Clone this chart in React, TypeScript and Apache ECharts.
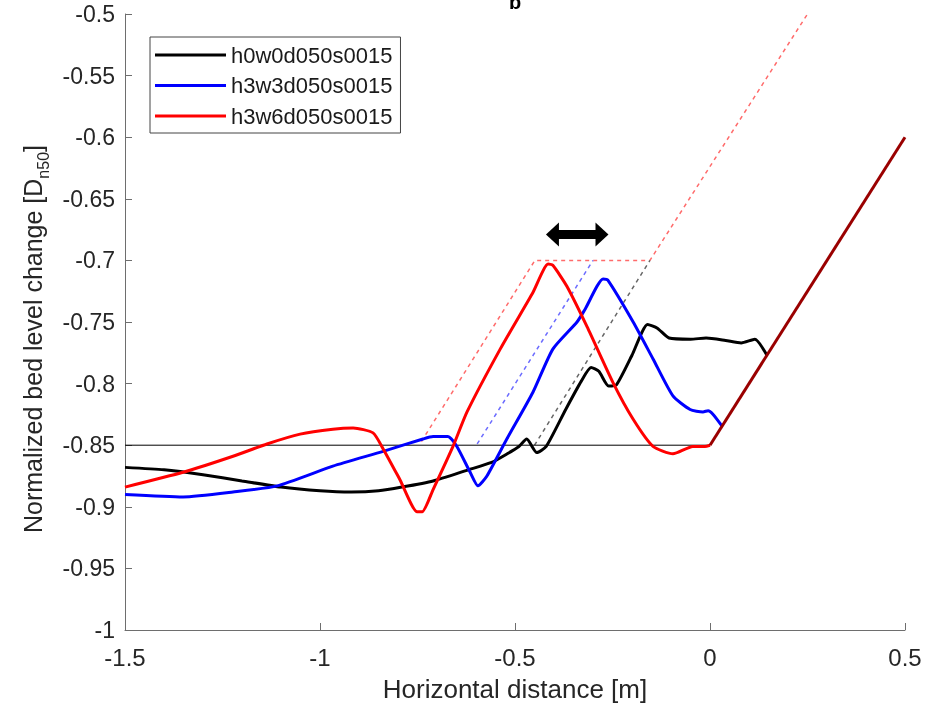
import React, { useEffect, useRef } from 'react';
import * as echarts from 'echarts';

const seriesNames = ['h0w0d050s0015', 'h3w3d050s0015', 'h3w6d050s0015'];

const blackX = [-1.5, -1.4, -1.3, -1.2, -1.1, -1.0, -0.92, -0.85, -0.79, -0.71, -0.62, -0.56, -0.52, -0.49, -0.47, -0.444, -0.42, -0.37, -0.33, -0.305, -0.285, -0.26, -0.24, -0.2, -0.16, -0.135, -0.105, -0.05, -0.01, 0.04, 0.08, 0.115, 0.146];
const blackY = [-0.868, -0.87, -0.874, -0.879, -0.884, -0.887, -0.888, -0.887, -0.884, -0.879, -0.87, -0.864, -0.857, -0.851, -0.845, -0.856, -0.851, -0.821, -0.798, -0.787, -0.79, -0.802, -0.801, -0.777, -0.752, -0.755, -0.763, -0.764, -0.763, -0.765, -0.767, -0.764, -0.777];

const blueX = [-1.5, -1.351, -1.223, -1.11, -0.967, -0.838, -0.736, -0.71, -0.672, -0.649, -0.615, -0.595, -0.572, -0.521, -0.454, -0.403, -0.341, -0.321, -0.274, -0.262, -0.197, -0.146, -0.095, -0.051, -0.018, -0.005, 0.008, 0.031];
const blueY = [-0.89, -0.892, -0.888, -0.883, -0.867, -0.855, -0.845, -0.843, -0.843, -0.851, -0.872, -0.883, -0.875, -0.845, -0.807, -0.772, -0.75, -0.74, -0.715, -0.716, -0.75, -0.78, -0.81, -0.821, -0.823, -0.822, -0.825, -0.8345];

const redX = [-1.5, -1.351, -1.223, -1.136, -1.051, -0.967, -0.915, -0.864, -0.838, -0.795, -0.751, -0.738, -0.71, -0.659, -0.623, -0.538, -0.454, -0.415, -0.403, -0.367, -0.315, -0.249, -0.197, -0.146, -0.095, -0.044, -0.013, 0];
const redY = [-0.884, -0.872, -0.859, -0.849, -0.841, -0.837, -0.836, -0.84, -0.853, -0.878, -0.904, -0.904, -0.886, -0.851, -0.823, -0.772, -0.726, -0.703, -0.704, -0.721, -0.754, -0.799, -0.829, -0.851, -0.857, -0.851, -0.851, -0.85];

// shared slope (all three profiles end on the same 1:2 slope)
const slopeX = [0, 0.5];
const slopeY = [-0.85, -0.6];

const redDashX = [-0.74, -0.449, -0.154, 0.25];
const redDashY = [-0.847, -0.7, -0.7, -0.5];
const blueDashX = [-0.597, -0.3];
const blueDashY = [-0.849, -0.7];
const blackDashX = [-0.45, -0.154];
const blackDashY = [-0.85, -0.7];

const refLineX = [-1.5, 0];
const refLineY = [-0.85, -0.85];

const arrowX = [-0.404, -0.277];
const arrowY = -0.679;

const zip = (xs: number[], ys: number[]) => xs.map((x, i) => [x, ys[i]]);

const FONT = 'Liberation Sans, Arial, sans-serif';

export default function App() {
  const ref = useRef<HTMLDivElement>(null);
  useEffect(() => {
    if (!ref.current) return;
    const chart = echarts.init(ref.current, undefined, { renderer: 'svg' });
    const axisColor = '#6e6e6e';
    const labelColor = '#262626';
    chart.setOption({
      animation: false,
      textStyle: { fontFamily: FONT },
      title: {
        text: 'b',
        left: 504,
        top: -13,
        textStyle: { fontSize: 20, fontWeight: 'bold', color: '#000', fontFamily: FONT },
      },
      grid: { left: 125, right: 28, top: 14, bottom: 76, containLabel: false },
      legend: {
        data: seriesNames.map((n) => ({ name: n, icon: 'rect' })),
        orient: 'vertical',
        left: 150,
        top: 37,
        itemWidth: 71,
        itemHeight: 3,
        itemGap: 8.5,
        padding: [7, 8, 6, 5],
        borderColor: '#444',
        borderWidth: 1,
        borderRadius: 0,
        backgroundColor: '#fff',
        textStyle: { fontSize: 22, color: '#1a1a1a', fontFamily: FONT, lineHeight: 22 },
      },
      xAxis: {
        type: 'value',
        min: -1.5,
        max: 0.5,
        interval: 0.5,
        name: 'Horizontal distance [m]',
        nameLocation: 'middle',
        nameGap: 46,
        nameTextStyle: { fontSize: 26, color: labelColor, fontFamily: FONT },
        axisLine: { show: true, onZero: false, lineStyle: { color: axisColor, width: 1 } },
        axisTick: { show: true, inside: true, length: 7, lineStyle: { color: axisColor } },
        axisLabel: { fontSize: 24, color: labelColor, margin: 15, fontFamily: FONT },
        splitLine: { show: false },
      },
      yAxis: {
        type: 'value',
        min: -1,
        max: -0.5,
        interval: 0.05,
        name: 'Normalized bed level change [D{sub|n50}]',
        nameLocation: 'middle',
        nameGap: 80,
        nameTextStyle: {
          fontSize: 25,
          color: labelColor,
          fontFamily: FONT,
          padding: [0, 34, 0, 0],
          rich: { sub: { fontSize: 16, verticalAlign: 'bottom', color: labelColor, fontFamily: FONT, padding: [0, 0, -6, 0] } },
        },
        axisLine: { show: true, onZero: false, lineStyle: { color: axisColor, width: 1 } },
        axisTick: { show: true, inside: true, length: 7, lineStyle: { color: axisColor } },
        axisLabel: {
          fontSize: 23,
          color: labelColor,
          margin: 10,
          fontFamily: FONT,
          formatter: (v: number) => String(parseFloat(v.toFixed(2))),
        },
        splitLine: { show: false },
      },
      series: [
        { type: 'line', data: zip(redDashX, redDashY), symbol: 'none', silent: true, lineStyle: { color: '#ff6b6b', width: 1.5, type: [4, 4] } },
        { type: 'line', data: zip(blueDashX, blueDashY), symbol: 'none', silent: true, lineStyle: { color: '#6b6bff', width: 1.5, type: [4, 4] } },
        { type: 'line', data: zip(blackDashX, blackDashY), symbol: 'none', silent: true, lineStyle: { color: '#666', width: 1.5, type: [4, 4] } },
        { type: 'line', data: zip(refLineX, refLineY), symbol: 'none', silent: true, lineStyle: { color: '#000', width: 1 } },
        { name: seriesNames[0], type: 'line', data: zip(blackX, blackY), symbol: 'none', smooth: 0.2, color: '#000', lineStyle: { color: '#000', width: 3 } },
        { name: seriesNames[1], type: 'line', data: zip(blueX, blueY), symbol: 'none', smooth: 0.2, color: '#0000ff', lineStyle: { color: '#0000ff', width: 3 } },
        { name: seriesNames[2], type: 'line', data: zip(redX, redY), symbol: 'none', smooth: 0.2, color: '#ff0000', lineStyle: { color: '#ff0000', width: 3 } },
        {
          type: 'line',
          data: zip(slopeX, slopeY),
          symbol: 'none',
          silent: true,
          lineStyle: { color: '#9a0000', width: 3 },
          markLine: {
            silent: true,
            symbol: ['triangle', 'triangle'],
            symbolSize: [24, 13],
            label: { show: false },
            lineStyle: { color: '#000', width: 9, type: 'solid' },
            data: [[{ coord: [arrowX[0], arrowY] }, { coord: [arrowX[1], arrowY] }]],
          },
        },
      ],
    });
    return () => chart.dispose();
  }, []);
  return <div ref={ref} style={{ position: 'fixed', left: 0, top: 0, width: 933, height: 707 }} />;
}
